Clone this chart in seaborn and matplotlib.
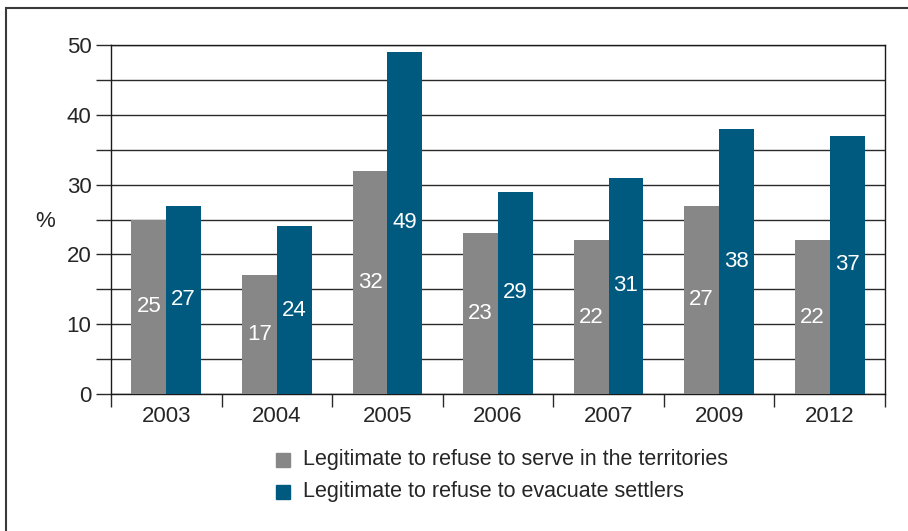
import matplotlib
matplotlib.use("Agg")
import matplotlib.pyplot as plt
from matplotlib.patches import Rectangle
from matplotlib import font_manager
import seaborn as sns
import pandas as pd

years = ["2003", "2004", "2005", "2006", "2007", "2009", "2012"]
serve_territories = [25, 17, 32, 23, 22, 27, 22]
evacuate_settlers = [27, 24, 49, 29, 31, 38, 37]
series_names = [
    "Legitimate to refuse to serve in the territories",
    "Legitimate to refuse to evacuate settlers",
]
y_ticks = [0, 10, 20, 30, 40, 50]

sns.set_style("white")
names = {f.name for f in font_manager.fontManager.ttflist}
family = "Liberation Sans Narrow" if "Liberation Sans Narrow" in names else "Liberation Sans"
plt.rcParams["font.family"] = [family, "DejaVu Sans"]

df = pd.DataFrame({
    "year": years * 2,
    "value": serve_territories + evacuate_settlers,
    "series": [series_names[0]] * len(years) + [series_names[1]] * len(years),
})

W, H = 908, 531
fig = plt.figure(figsize=(W / 100, H / 100), dpi=100)
ax = fig.add_axes([111 / W, 1 - 394 / H, (885 - 111) / W, (394 - 45) / H])

palette = {series_names[0]: "#878787", series_names[1]: "#005a80"}
sns.barplot(data=df, x="year", y="value", hue="series", order=years,
            hue_order=series_names, palette=palette, width=0.63, gap=0,
            saturation=1, linewidth=0, ax=ax, legend=False, zorder=3)

for cont in ax.containers:
    ax.bar_label(cont, label_type="center", color="white", fontsize=16)

ax.set_ylim(0, 50)
ax.set_xlim(-0.5, len(years) - 0.5)
ax.set_yticks(y_ticks)
ax.set_yticks([5, 15, 25, 35, 45], minor=True)
ax.yaxis.grid(True, which="both", color="#2a2a2a", linewidth=1, zorder=0)
ax.set_axisbelow(True)
ax.tick_params(axis="y", which="both", length=11, width=1, color="#2a2a2a",
               direction="out", labelsize=16, left=True, pad=3)

ax.set_xticks([i - 0.5 for i in range(len(years) + 1)])
ax.set_xticklabels([""] * (len(years) + 1))
ax.set_xticks(range(len(years)), labels=years, minor=True)
ax.tick_params(axis="x", which="major", length=9, width=1, color="#2a2a2a",
               direction="out", bottom=True)
ax.tick_params(axis="x", which="minor", length=0, labelsize=16, pad=9)
ax.set_xlabel("")
ax.set_ylabel("")

for side in ["left", "bottom", "right", "top"]:
    ax.spines[side].set_visible(True)
    ax.spines[side].set_color("#1a1a1a")
    ax.spines[side].set_linewidth(1)

fig.text(45 / W, 1 - 222 / H, "%", fontsize=16, ha="center", va="center")

# legend drawn as squares with labels underneath the axes
for i, name in enumerate(series_names):
    yc = 1 - (460 + 32 * i) / H
    fig.patches.append(Rectangle((276 / W, yc - 7 / H), 14 / W, 14 / H,
                                 transform=fig.transFigure,
                                 color=palette[name], figure=fig))
    fig.text(303 / W, yc, name, fontsize=15.5, ha="left", va="center")

# outer frame
fig.patches.append(Rectangle((6 / W, -0.05), 1.1, 1 - 8 / H + 0.05,
                             transform=fig.transFigure, fill=False,
                             edgecolor="#3a3a3a", linewidth=1.5, figure=fig))

fig.savefig("out.png", dpi=100)
